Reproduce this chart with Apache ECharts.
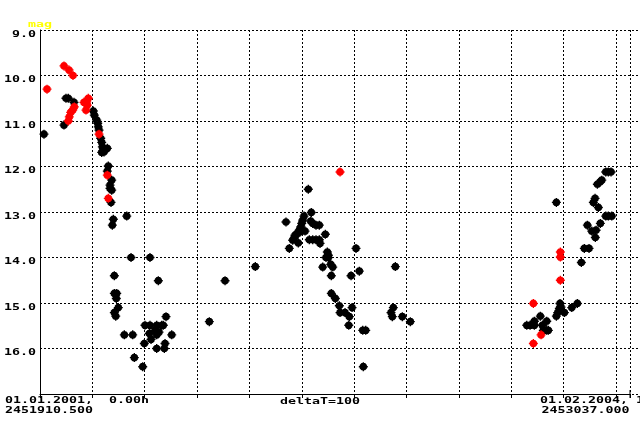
<!DOCTYPE html>
<html><head><meta charset="utf-8">
<script src="https://cdn.jsdelivr.net/npm/echarts@6/dist/echarts.min.js"></script>
<style>html,body{margin:0;padding:0;background:#fff}#c{width:640px;height:424px}</style>
</head><body><div id="c"></div>
<script>
// Julian date range of the plot (days counted from JD0)
const JD0 = 2451910.5;
const JD1 = 2453037.0;
const dayStep = 100;
const magMin = 9, magMax = 17;
const yTicks = [9, 10, 11, 12, 13, 14, 15, 16];
const yTickLabels = ['9.0', '10.0', '11.0', '12.0', '13.0', '14.0', '15.0', '16.0'];
const yName = 'mag';
const startLabel = ['01.01.2001,  0.00h', '2451910.500'];
const endLabel = ['01.02.2004, 12.00h', '2453037.000'];
const stepLabel = 'deltaT=100';

// [days since JD0, magnitude] - black (visual) estimates
const blackPoints = [
 [7.6,11.29],[45.8,11.09],[49.6,10.50],[54.0,10.50],[64.9,10.59],
 [101.8,10.78],[103.7,10.87],[108.3,10.98],[110.2,11.05],[111.3,11.13],[112.7,11.20],
 [115.9,11.38],[117.8,11.47],[119.0,11.57],[117.8,11.69],[128.5,11.60],[122.2,11.68],
 [130.4,11.99],[128.5,12.10],[136.9,12.30],[133.7,12.41],[133.7,12.48],[136.9,12.52],
 [135.6,12.79],[165.6,13.09],[140.0,13.16],[138.1,13.29],[173.8,14.00],[210.0,14.00],
 [141.9,14.40],[225.9,14.51],[141.9,14.79],[146.5,14.79],[145.7,14.90],[149.5,15.10],
 [141.9,15.21],[144.6,15.29],[240.6,15.30],[200.5,15.49],[210.0,15.49],[222.8,15.49],
 [232.4,15.49],[235.4,15.49],[208.7,15.67],[219.6,15.60],[227.2,15.64],[222.8,15.70],
 [161.0,15.70],[177.0,15.70],[251.5,15.70],[212.0,15.80],[199.2,15.89],[238.7,15.89],
 [222.8,16.00],[237.4,16.00],[180.1,16.20],[196.1,16.40],[323.3,15.41],[353.3,14.51],
 [411.1,14.20],
 [512.3,12.50],[518.0,13.01],[469.7,13.22],[504.1,13.09],[501.6,13.18],[499.7,13.25],
 [497.8,13.33],[495.1,13.40],[493.2,13.44],[490.2,13.49],[486.9,13.51],[485.0,13.58],
 [482.5,13.62],[493.2,13.68],[476.0,13.80],[506.0,13.42],[496.5,13.44],[516.9,13.20],
 [520.7,13.25],[527.0,13.29],[533.3,13.29],[544.8,13.49],[514.2,13.61],[520.7,13.61],
 [527.0,13.61],[533.3,13.61],[534.7,13.69],[548.6,13.88],[550.5,13.95],[546.1,14.00],
 [550.5,14.00],[603.4,13.80],[555.1,14.15],[558.9,14.21],[539.8,14.21],[556.2,14.40],
 [593.9,14.40],[609.7,14.30],[556.2,14.79],[563.9,14.90],[571.5,15.06],[595.8,15.10],
 [572.9,15.21],[582.4,15.21],[590.6,15.30],[589.5,15.49],[616.2,15.60],[621.9,15.60],
 [617.3,16.40],[678.5,14.20],[674.6,15.10],[670.2,15.21],[672.7,15.30],[691.8,15.30],
 [707.1,15.41],
 [1085.2,12.12],[1080.2,12.12],[1090.3,12.12],[1072.6,12.30],[1069.3,12.34],[1064.2,12.39],
 [985.9,12.79],[1059.8,12.70],[1056.5,12.79],[1066.1,12.90],[1080.2,13.09],[1085.2,13.09],
 [1091.7,13.09],[1069.9,13.25],[1045.1,13.29],[1053.5,13.42],[1061.7,13.40],[1060.3,13.56],
 [1039.3,13.80],[1048.3,13.80],[1033.6,14.11],[992.9,15.01],[994.8,15.09],[991.6,15.12],
 [1026.0,15.01],[1015.3,15.10],[1001.2,15.21],[988.5,15.21],[985.9,15.29],[955.3,15.29],
 [967.5,15.40],[943.9,15.40],[929.4,15.49],[935.7,15.49],[943.9,15.49],[959.1,15.49],
 [961.0,15.60],[967.5,15.60],[970.6,15.60]
];

// [days since JD0, magnitude] - red estimates
const redPoints = [
 [45.8,9.79],[55.4,9.88],[63.0,10.00],[13.4,10.30],[65.5,10.69],[62.4,10.76],[58.6,10.81],
 [55.9,10.91],[54.0,11.00],[92.2,10.50],[89.2,10.58],[84.0,10.59],[90.3,10.65],[87.8,10.76],
 [112.7,11.29],[128.5,12.19],[130.4,12.70],[572.9,12.12],[993.5,13.88],[993.5,13.99],
 [993.5,14.50],[942.0,15.01],[956.7,15.70],[942.0,15.89]
];

const FONT = 'bold 13.3px "DejaVu Sans Mono", "Liberation Mono", monospace';
const SQ = 0.63;
const dotted = {color: '#000', width: 1, type: [2, 2]};
const starPath = 'path://M-0.6,-4L0.6,-4L0.6,-3.2L1.6,-3.2L3.2,-1.6L3.2,-0.6L4,-0.6L4,0.6L3.2,0.6L3.2,1.6L1.6,3.2L0.6,3.2L0.6,4L-0.6,4L-0.6,3.2L-1.6,3.2L-3.2,1.6L-3.2,0.6L-4,0.6L-4,-0.6L-3.2,-0.6L-3.2,-1.6L-1.6,-3.2L-0.6,-3.2Z';

function txt(str, x, y, align, color) {
  return {type: 'text', x: x, y: y, scaleY: SQ, silent: true, z: 100,
    style: {text: str, font: FONT, fill: color || '#000', align: align || 'left', verticalAlign: 'middle'}};
}

const chart = echarts.init(document.getElementById('c'), null, {renderer: 'canvas'});
const yAxisBase = {type: 'value', inverse: true, min: magMin, max: magMax, interval: 1,
  axisLabel: {show: false}, axisTick: {show: false}};
chart.setOption({
  animation: false,
  backgroundColor: '#fff',
  grid: [
    {left: 40, right: 0, top: 30, bottom: 30},
    {left: 40, right: 10, top: 30, bottom: 30}
  ],
  xAxis: [
    {gridIndex: 0, type: 'value', min: 0, max: 1, show: false},
    {gridIndex: 1, type: 'value', min: 0, max: JD1 - JD0, interval: dayStep,
     axisLine: {show: true, onZero: false, lineStyle: {color: '#000', width: 1}},
     axisTick: {show: true, length: 4, lineStyle: {color: '#000'}},
     axisLabel: {show: false},
     splitLine: {show: true, lineStyle: dotted}}
  ],
  yAxis: [
    Object.assign({gridIndex: 0, axisLine: {show: false},
      splitLine: {show: true, lineStyle: dotted}}, yAxisBase),
    Object.assign({gridIndex: 1, axisLine: {show: true, onZero: false, lineStyle: {color: '#000', width: 1}},
      splitLine: {show: false}}, yAxisBase)
  ],
  series: [
    {type: 'scatter', xAxisIndex: 1, yAxisIndex: 1, data: blackPoints,
     symbol: starPath, symbolSize: 9, itemStyle: {color: '#000', opacity: 1}},
    {type: 'scatter', xAxisIndex: 1, yAxisIndex: 1, data: redPoints,
     symbol: starPath, symbolSize: 9, itemStyle: {color: '#ff0000', opacity: 1}}
  ]
});

const g = [];
yTicks.forEach(function (v, i) {
  const py = chart.convertToPixel({yAxisIndex: 1}, v);
  g.push(txt(yTickLabels[i], 36, py + 4.7, 'right'));
});
const x1 = chart.convertToPixel({xAxisIndex: 1}, JD1 - JD0);
const yb = chart.convertToPixel({yAxisIndex: 1}, magMax);
g.push(txt(yName, 28, 25.3, 'left', '#ffff00'));
g.push(txt(startLabel[0], 5, yb + 7.3, 'left'));
g.push(txt(startLabel[1], 5, yb + 17.3, 'left'));
g.push(txt(stepLabel, 320, yb + 7.5, 'center'));
g.push(txt(endLabel[0], 540, yb + 7.3, 'left'));
g.push(txt(endLabel[1], x1 - 0.5, yb + 17.3, 'right'));
g.push({type: 'line', silent: true, shape: {x1: x1, y1: yb - 4, x2: x1, y2: yb + 4},
  style: {stroke: '#000', lineWidth: 1}});
chart.setOption({graphic: g});
</script>
</body></html>
